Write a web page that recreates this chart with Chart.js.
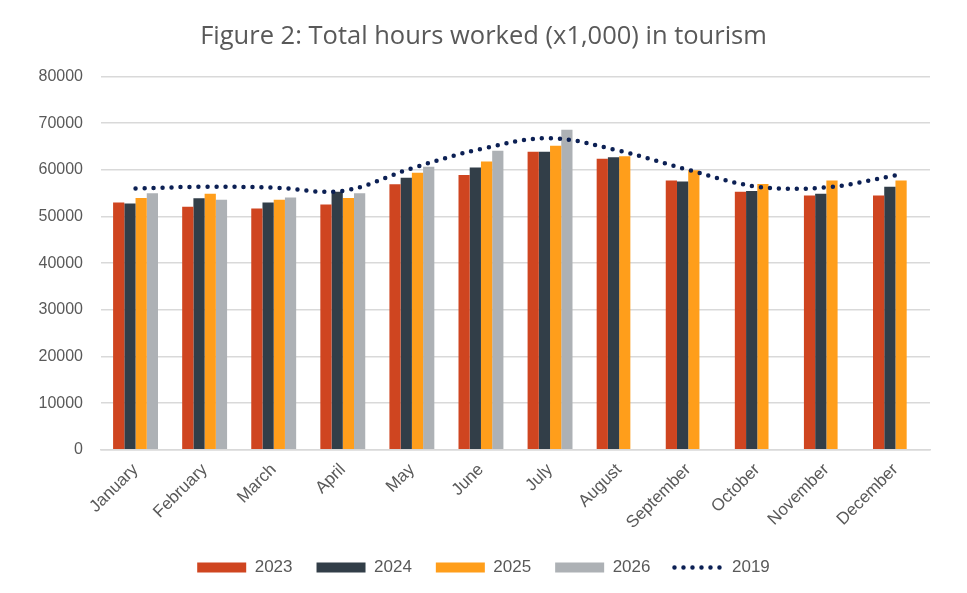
<!DOCTYPE html>
<html>
<head>
<meta charset="utf-8">
<script src="https://cdn.jsdelivr.net/npm/chart.js@4"></script>
<style>
  html, body { margin: 0; padding: 0; background: #fff; }
  #wrap { width: 967px; height: 593px; }
</style>
</head>
<body>
<div id="wrap"><canvas id="hoursChart"></canvas></div>
<script>
// Total hours worked (x1,000) in tourism, per month
const months = ['January', 'February', 'March', 'April', 'May', 'June',
                'July', 'August', 'September', 'October', 'November', 'December'];

const hours2023 = [53000, 52100, 51700, 52600, 56900, 58900, 63900, 62400, 57700, 55300, 54500, 54500];
const hours2024 = [52800, 53900, 53000, 55300, 58300, 60500, 63900, 62700, 57500, 55500, 54900, 56400];
const hours2025 = [54000, 54900, 53600, 54000, 59400, 61800, 65200, 62900, 59900, 57000, 57700, 57700];
const hours2026 = [55000, 53600, 54100, 55000, 60700, 64100, 68600, null, null, null, null, null];
const hours2019 = [56000, 56400, 56200, 55500, 60350, 64500, 66800, 64100, 60000, 56400, 56250, 58800];

const yTicks = [0, 10000, 20000, 30000, 40000, 50000, 60000, 70000, 80000];

const textColor = '#595959';
const gridColor = '#d9d9d9';
const lineColor = '#0c2054';

function barSet(label, data, color) {
    return {
        type           : 'bar',
        label,
        data,
        backgroundColor: color,
        borderWidth    : 0,
        pointStyle     : 'rect',
        categoryPercentage: 0.65,
        barPercentage  : 1.0,
        order          : 1
    };
}

const ctx = document.getElementById('hoursChart').getContext('2d');

new Chart(ctx, {
    type: 'bar',
    data: {
        labels: months,
        datasets: [
            barSet('2023', hours2023, '#cf4520'),
            barSet('2024', hours2024, '#323e48'),
            barSet('2025', hours2025, '#ff9e1b'),
            barSet('2026', hours2026, '#adb1b5'),
            {
                type           : 'line',
                label          : '2019',
                data           : hours2019,
                borderColor    : lineColor,
                backgroundColor: lineColor,
                borderWidth    : 4.5,
                borderDash     : [0, 9],
                borderCapStyle : 'round',
                tension        : 0.35,
                pointRadius    : 0,
                pointHoverRadius: 0,
                pointStyle     : 'line',
                fill           : false,
                order          : 0
            }
        ]
    },
    options: {
        responsive         : true,
        maintainAspectRatio: false,
        animation          : false,
        layout: {
            padding: { left: 37, right: 37, top: 0, bottom: 7 }
        },
        plugins: {
            title: {
                display: true,
                text   : 'Figure 2: Total hours worked (x1,000) in tourism',
                color  : textColor,
                font   : { family: 'Open Sans', size: 25.5, weight: 'normal' },
                padding: { top: 21, bottom: 25 }
            },
            legend: {
                position: 'bottom',
                labels  : {
                    color          : textColor,
                    font           : { family: 'Liberation Sans', size: 17 },
                    usePointStyle  : true,
                    pointStyleWidth: 49,
                    boxHeight      : 10,
                    padding        : 24,
                    sort           : (a, b) => a.datasetIndex - b.datasetIndex,
                    generateLabels : (chart) => {
                        const items = Chart.defaults.plugins.legend.labels
                                          .generateLabels(chart);
                        items.forEach(it => {
                            if (chart.data.datasets[it.datasetIndex].type === 'line') {
                                it.pointStyle  = 'line';
                                it.strokeStyle = lineColor;
                                it.lineWidth   = 4.5;
                                it.lineDash    = [0, 9];
                                it.lineCap     = 'round';
                            } else {
                                it.pointStyle = 'rect';
                                it.lineWidth  = 0;
                            }
                        });
                        return items;
                    }
                }
            },
            tooltip: { enabled: false }
        },
        scales: {
            x: {
                grid  : { display: false },
                border: { color: gridColor, width: 1.5 },
                ticks : {
                    color      : textColor,
                    font       : { family: 'Liberation Sans', size: 17 },
                    maxRotation: 45,
                    minRotation: 45,
                    padding    : 2
                },
                // rotated labels may overhang the y axis, as in the original
                afterFit: (scale) => { scale.paddingLeft = 0; }
            },
            y: {
                min : 0,
                max : 80000,
                afterBuildTicks: (axis) => {
                    axis.ticks = yTicks.map(v => ({ value: v }));
                },
                // fixed axis width so the plot starts where the original does
                afterFit: (scale) => { scale.width = 64; },
                grid  : { color: gridColor, lineWidth: 1.5, drawTicks: false },
                border: { display: false },
                ticks : {
                    color  : textColor,
                    font   : { family: 'Liberation Sans', size: 16 },
                    padding: 18,
                    callback: (v) => String(v)
                }
            }
        }
    }
});
</script>
</body>
</html>
